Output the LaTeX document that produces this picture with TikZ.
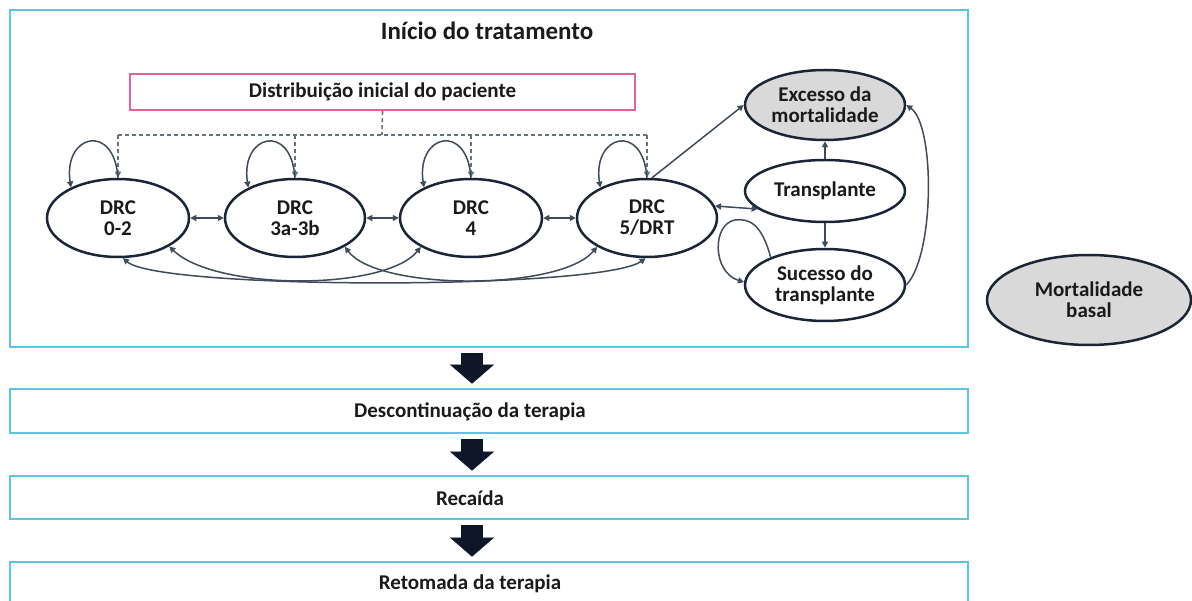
\documentclass[tikz,border=0pt]{standalone}
\usepackage{fontspec}
\setmainfont{Carlito}
\usetikzlibrary{arrows.meta,shapes.geometric,calc}
\definecolor{ellc}{HTML}{1C2536}
\definecolor{connc}{HTML}{3F4A5A}
\definecolor{dashc}{HTML}{66717F}
\definecolor{cyanc}{HTML}{5CC6E0}
\definecolor{pinkc}{HTML}{E4619E}
\definecolor{grayf}{HTML}{D9D9D9}
\definecolor{arrowc}{HTML}{0E1628}
\definecolor{txt}{HTML}{1A1A1A}
\begin{document}
\begin{tikzpicture}[x=1pt,y=-1pt,
  lbl/.style={font=\bfseries\fontsize{21}{21}\selectfont, text=txt, align=center, inner sep=0pt},
  state/.style={ellipse, draw=ellc, line width=2.5pt, fill=white, minimum width=142pt,
    minimum height=78pt, inner sep=0pt, lbl},
  conn/.style={draw=connc, line width=1.5pt, -{Triangle[length=6pt,width=6pt]}},
  biconn/.style={draw=connc, line width=1.5pt, {Triangle[length=6pt,width=6pt]}-{Triangle[length=6pt,width=6pt]}},
  dashl/.style={draw=dashc, line width=1.6pt, dash pattern=on 4pt off 3pt},
  bluebox/.style={draw=cyanc, line width=2.8pt, minimum width=958pt, inner sep=0pt},
  bigarrow/.style={draw=arrowc, line width=22pt, -{Triangle[length=19pt,width=44pt,line width=0.01pt]},
    shorten <=5pt, shorten >=4pt}
]
\useasboundingbox (0,0) rectangle (1192,601);
\clip (0,0) rectangle (1192,601);

% main frame
\node[bluebox, minimum height=337pt] (main) at (489,178.5) {};
\node[lbl, font=\bfseries\fontsize{25}{25}\selectfont] (title) at (487,31) {Início do tratamento};

% initial distribution
\node[draw=pinkc, line width=2.2pt, minimum width=505pt, minimum height=36pt, inner sep=0pt, lbl] (dist) at (382.5,92) {Distribuição inicial do paciente};

% CKD states
\node[state] (d0) at (118,218) {DRC\\0-2};
\node[state, minimum width=140pt] (d3) at (295,218) {DRC\\3a-3b};
\node[state] (d4) at (471,218) {DRC\\4};
\node[state, minimum width=140pt] (d5) at (647,218) {DRC\\5/DRT};

% right states
\node[state, fill=grayf, minimum width=160pt, minimum height=70pt] (exc) at (825,105) {Excesso da\\mortalidade};
\node[state, minimum width=160pt, minimum height=62pt] (tr) at (825,191) {Transplante};
\node[state, minimum width=160pt, minimum height=72pt] (suc) at (825,285) {Sucesso do\\transplante};
\node[state, fill=grayf, minimum width=204pt, minimum height=90pt] (mb) at (1089,300) {Mortalidade\\basal};

% dashed distribution lines
\coordinate (bus) at (382,135);
\draw[dashl] (dist.south) -- (bus);
\draw[dashl] (d0.north |- bus) -- (d5.north |- bus);
\foreach \n in {d0,d3,d4,d5}{
  \draw[dashl, -{Triangle[length=6pt,width=6pt]}] (\n.north |- bus) -- (\n.north);
}

% self loops
\foreach \n in {d0,d3,d4,d5}{
  \draw[conn] (\n.north) .. controls ($(\n.north)+(-4,-56)$) and ($(\n.147)+(-8,-53)$) .. (\n.147);
}

% neighbour transitions
\draw[biconn] (d0.east) -- (d3.west);
\draw[biconn] (d3.east) -- (d4.west);
\draw[biconn] (d4.east) -- (d5.west);

% long transitions below
\draw[biconn] (d0.-83) .. controls (160,290) and (600,290) .. (d5.-92);
\draw[biconn] (d0.-29) .. controls (215,291) and (385,291) .. (d4.210);
\draw[biconn] (d3.-30) .. controls (378,291) and (560,291) .. (d5.210);

% right side transitions
\draw[conn] (d5.83) -- (exc.west);
\draw[biconn] (d5.10) -- (tr.195);
\draw[conn] (tr.north) -- (exc.south);
\draw[conn] (tr.south) -- (suc.north);
\draw[conn] (suc.east) .. controls (935,255) and (935,125) .. (exc.east);
\draw[conn] (suc.153) .. controls (762,225) and (750,218) .. (735,220)
  .. controls (712,224) and (712,272) .. (suc.178);

% lower boxes
\node[bluebox, minimum height=44pt] (desc) at (489,411) {};
\node[lbl] (desct) at (470,412) {Descontinuação da terapia};
\node[bluebox, minimum height=43pt] (rec) at (489,497.5) {};
\node[lbl] (rect) at (470,498) {Recaída};
\node[bluebox, minimum height=50pt] (ret) at (489,587) {};
\node[lbl] (rett) at (470,584) {Retomada da terapia};

% big arrows
\coordinate (bx) at (472,0);
\draw[bigarrow] (main.south -| bx) -- (desc.north -| bx);
\draw[bigarrow] (desc.south -| bx) -- (rec.north -| bx);
\draw[bigarrow] (rec.south -| bx) -- (ret.north -| bx);
\end{tikzpicture}
\end{document}
